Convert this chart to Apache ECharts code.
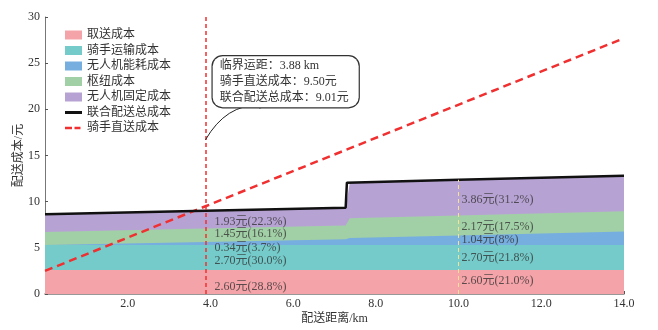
<!DOCTYPE html>
<html>
<head>
<meta charset="utf-8">
<script src="https://cdn.jsdelivr.net/npm/echarts@6/dist/echarts.min.js"></script>
<style>
  html, body { margin: 0; padding: 0; background: #fff; }
  #chart { width: 658px; height: 330px; }
</style>
</head>
<body>
<div id="chart"></div>
<script>
// Cost components (元) of joint drone + rider delivery along the distance axis (km)
const distanceKm = [0, 3.88, 7.27, 7.37, 10, 14];
const pickupCost = [2.6, 2.6, 2.6, 2.6, 2.6, 2.6];
const riderTransportCost = [2.7, 2.7, 2.7, 2.7, 2.7, 2.7];
const droneEnergyCost = [0, 0.34, 0.64, 0.76, 1.04, 1.46];
const hubCost = [1.42, 1.45, 1.48, 2.14, 2.17, 2.19];
const droneFixedCost = [1.93, 1.93, 1.93, 3.86, 3.86, 3.86];

// Joint delivery total cost curve
const jointDistKm = [0, 3.88, 7.27, 7.3, 10, 14];
const jointTotalCost = [8.65, 9.01, 9.35, 12.06, 12.37, 12.81];

// Rider direct delivery cost
const directDistKm = [0, 3.88, 14];
const riderDirectCost = [2.5, 9.5, 27.7];

// Break-even point
const criticalDistKm = 3.88;
const riderCostAtCritical = 9.50;
const jointCostAtCritical = 9.01;

// Breakdown labels: value index into distanceKm and the share strings (%)
const breakdownIndex = [1, 4];
const shareAtCritical = ['28.8', '30.0', '3.7', '16.1', '22.3'];
const shareAt10km = ['21.0', '21.8', '8', '17.5', '31.2'];

const componentNames = ['取送成本', '骑手运输成本', '无人机能耗成本', '枢纽成本', '无人机固定成本'];
const componentValues = [pickupCost, riderTransportCost, droneEnergyCost, hubCost, droneFixedCost];
const componentColors = ['#f4a3a8', '#74cbca', '#76aee0', '#a2d0a6', '#b7a3d3'];

const FONT = "'Liberation Serif', 'Noto Sans CJK SC', serif";
const TEXT = '#333';

// cumulative tops of each band
const cumulative = componentValues.map((_, k) =>
  distanceKm.map((_, i) => {
    let s = 0;
    for (let j = 0; j <= k; j++) s += componentValues[j][i];
    return +s.toFixed(4);
  })
);

// draw from the top band down so each opaque area covers the one above it
const areaSeries = [];
for (let k = componentNames.length - 1; k >= 0; k--) {
  areaSeries.push({
    name: componentNames[k],
    type: 'line',
    symbol: 'none',
    color: componentColors[k],
    lineStyle: { width: 0 },
    areaStyle: { color: componentColors[k], opacity: 1 },
    data: distanceKm.map((d, i) => [d, cumulative[k][i]]),
    z: 1
  });
}

// band labels
const labelOffsets = [
  { dx: 9, dy: [5, 3, 4, -1, 2] },
  { dx: 3, dy: [-1, 0, 0, 1, 2.5] }
];
const shares = [shareAtCritical, shareAt10km];
const labelData = [];
breakdownIndex.forEach((idx, b) => {
  componentNames.forEach((_, k) => {
    const bottom = k === 0 ? 0 : cumulative[k - 1][idx];
    const top = cumulative[k][idx];
    labelData.push({
      value: [distanceKm[idx], (bottom + top) / 2],
      label: {
        offset: [labelOffsets[b].dx, labelOffsets[b].dy[k]],
        formatter: componentValues[k][idx].toFixed(2) + '元(' + shares[b][k] + '%)'
      }
    });
  });
});

const chart = echarts.init(document.getElementById('chart'), null, { renderer: 'canvas' });

chart.setOption({
  animation: false,
  backgroundColor: '#fff',
  textStyle: { fontFamily: FONT, color: TEXT },
  grid: { left: 45, right: 34, top: 17, bottom: 36 },
  legend: {
    orient: 'vertical',
    left: 60,
    top: 24,
    itemWidth: 17,
    itemHeight: 9,
    itemGap: 3.5,
    textStyle: { fontFamily: FONT, fontSize: 12, color: TEXT, lineHeight: 12 },
    data: componentNames.map(n => ({ name: n, icon: 'rect' })).concat([
      { name: '联合配送总成本', icon: 'path://M0,3.5L17,3.5L17,6.5L0,6.5Z' },
      { name: '骑手直送成本', icon: 'path://M0,3.5h7v2.5h-7z M9.5,3.5h6v2.5h-6z M17,3.5h0.01v2.5h-0.01z' }
    ])
  },
  xAxis: {
    type: 'value',
    min: 0, max: 14, interval: 2,
    name: '配送距离/km',
    nameLocation: 'middle',
    nameGap: 19,
    nameMoveOverlap: false,
    nameTextStyle: { fontFamily: FONT, fontSize: 12, color: TEXT },
    axisLine: { lineStyle: { color: '#777', width: 1.5 } },
    axisTick: { inside: true, length: 3, lineStyle: { color: '#555' } },
    axisLabel: {
      margin: 4, fontSize: 12, color: TEXT, fontFamily: FONT,
      showMinLabel: false,
      formatter: v => v.toFixed(1)
    },
    splitLine: { show: false }
  },
  yAxis: {
    type: 'value',
    min: 0, max: 30, interval: 5,
    name: '配送成本/元',
    nameLocation: 'middle',
    nameGap: 20,
    nameMoveOverlap: false,
    nameTextStyle: { fontFamily: FONT, fontSize: 12, color: TEXT },
    axisLine: { show: true, lineStyle: { color: '#777', width: 1 } },
    axisTick: { show: true, inside: true, length: 3, lineStyle: { color: '#555' } },
    axisLabel: { margin: 5, fontSize: 12, color: TEXT, fontFamily: FONT },
    splitLine: { show: false }
  },
  series: areaSeries.concat([
    {
      name: '骑手直送成本',
      type: 'line',
      symbol: 'none',
      color: '#f03030',
      lineStyle: { color: '#f03030', width: 2.5, type: [8, 5] },
      data: directDistKm.map((d, i) => [d, riderDirectCost[i]]),
      z: 3,
      markLine: {
        silent: true,
        symbol: 'none',
        label: { show: false },
        emphasis: { disabled: true },
        data: [
          { xAxis: criticalDistKm, lineStyle: { color: '#f03030', width: 1.5, type: [4, 3] } },
          [
            { coord: [10, 0], lineStyle: { color: '#f5e294', width: 1, type: [4, 3] } },
            { coord: [10, cumulative[4][4]] }
          ]
        ]
      }
    },
    {
      name: '联合配送总成本',
      type: 'line',
      symbol: 'none',
      color: '#111',
      lineStyle: { color: '#111', width: 2.5 },
      data: jointDistKm.map((d, i) => [d, jointTotalCost[i]]),
      z: 4
    },
    {
      name: 'breakdown',
      type: 'scatter',
      symbolSize: 0,
      silent: true,
      z: 5,
      label: {
        show: true,
        position: 'right',
        distance: 0,
        fontFamily: FONT,
        fontSize: 12,
        color: TEXT
      },
      data: labelData
    }
  ])
});

// callout box and curved pointer, anchored on the critical distance line
const toPx = v => chart.convertToPixel({ xAxisIndex: 0, yAxisIndex: 0 }, v);
const p1 = toPx([criticalDistKm, 16.7]);
const p2 = toPx([5.38, 20.4]);
const bend = 0.3;
const cp = [
  (p1[0] + p2[0]) / 2 + (p1[1] - p2[1]) * -bend,
  (p1[1] + p2[1]) / 2 - (p2[0] - p1[0]) * bend
];
const tx = p2[0] - cp[0], ty = p2[1] - cp[1];
const tl = Math.hypot(tx, ty);
const ux = tx / tl, uy = ty / tl;
const headLen = 8, headHalf = 3.5;
const tip = p2;
const base = [tip[0] - ux * headLen, tip[1] - uy * headLen];
const head = [
  tip,
  [base[0] - uy * headHalf, base[1] + ux * headHalf],
  [base[0] + uy * headHalf, base[1] - ux * headHalf]
];
const boxLeft = toPx([criticalDistKm, 0])[0] + 6;

chart.setOption({
  graphic: [
    {
      type: 'bezierCurve',
      z: 9,
      silent: true,
      shape: { x1: p1[0], y1: p1[1], x2: base[0], y2: base[1], cpx1: cp[0], cpy1: cp[1] },
      style: { stroke: '#222', lineWidth: 1, fill: null }
    },
    {
      type: 'polygon',
      z: 9,
      silent: true,
      shape: { points: head },
      style: { fill: '#222' }
    },
    {
      type: 'text',
      left: boxLeft,
      top: 55,
      z: 10,
      style: {
        text: [
          '临界运距：' + criticalDistKm.toFixed(2) + ' km',
          '骑手直送成本：' + riderCostAtCritical.toFixed(2) + '元',
          '联合配送总成本：' + jointCostAtCritical.toFixed(2) + '元'
        ].join('\n'),
        font: '12px ' + FONT,
        fill: TEXT,
        lineHeight: 16,
        backgroundColor: '#fff',
        borderColor: '#333',
        borderWidth: 1.2,
        borderRadius: 10,
        padding: [2, 10, 1, 7]
      }
    }
  ]
});
</script>
</body>
</html>
